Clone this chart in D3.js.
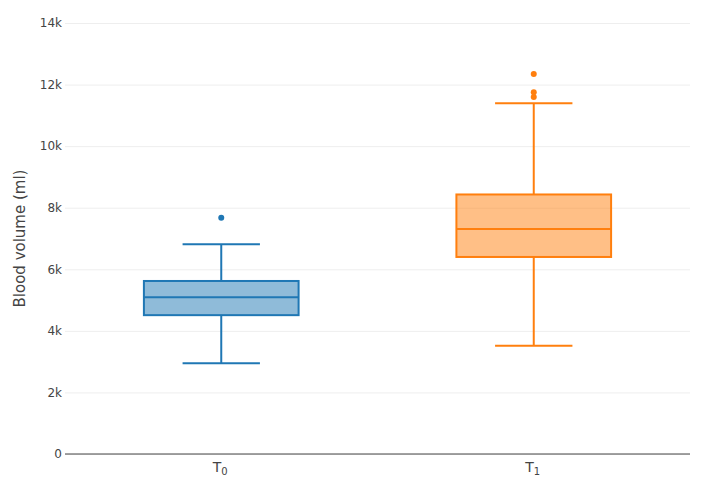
<!DOCTYPE html>
<html>
<head>
<meta charset="utf-8">
<script src="https://cdn.jsdelivr.net/npm/d3@7"></script>
<style>
  body { margin: 0; background: #fff; }
  svg { display: block; }
  svg text { font-family: "DejaVu Sans", Verdana, sans-serif; }
</style>
</head>
<body>
<div id="chart"></div>
<script>
// box statistics
const categories = ["T0", "T1"];
const lowerWhisker = [2950, 3520];
const q1 = [4510, 6400];
const median = [5090, 7310];
const q3 = [5620, 8430];
const upperWhisker = [6810, 11390];
const outliers = [[7670], [11600, 11750, 12340]];
const colors = ["#1f77b4", "#ff7f0e"];
const yTicks = [0, 2000, 4000, 6000, 8000, 10000, 12000, 14000];

const width = 704, height = 487;
const margin = { top: 23, right: 14, bottom: 33, left: 65 };
const innerWidth = width - margin.left - margin.right;
const innerHeight = height - margin.top - margin.bottom;

const svg = d3.select("#chart").append("svg")
    .attr("width", width)
    .attr("height", height);

const g = svg.append("g")
    .attr("transform", `translate(${margin.left},${margin.top})`);

const x = d3.scaleBand()
    .domain(categories)
    .range([0, innerWidth]);

const y = d3.scaleLinear()
    .domain([0, 14000])
    .range([innerHeight, 0]);

const fmt = d => d === 0 ? "0" : (d / 1000) + "k";

// Grid
g.append("g")
    .call(d3.axisLeft(y).tickValues(yTicks).tickSize(-innerWidth).tickFormat(""))
    .call(a => a.select(".domain").remove())
    .call(a => a.selectAll("text").remove())
    .selectAll("line")
    .attr("stroke", "#eee");

// Y axis labels
g.append("g")
    .call(d3.axisLeft(y).tickValues(yTicks).tickSize(0).tickPadding(3).tickFormat(fmt))
    .attr("font-family", null)
    .call(a => a.select(".domain").remove())
    .selectAll("text")
    .attr("fill", "#444")
    .attr("font-size", "12px");

// zero line
g.append("line")
    .attr("x1", 0).attr("x2", innerWidth)
    .attr("y1", y(0)).attr("y2", y(0))
    .attr("stroke", "#444")
    .attr("stroke-width", 1);

// Boxes
const boxW = x.bandwidth() * 0.495;
const data = categories.map((c, i) => ({
    c, i, lo: lowerWhisker[i], q1: q1[i], med: median[i], q3: q3[i], hi: upperWhisker[i], out: outliers[i]
}));

const box = g.selectAll("g.box")
    .data(data)
    .enter()
    .append("g")
    .attr("class", "box")
    .attr("transform", d => `translate(${x(d.c) + x.bandwidth() / 2},0)`);

// whiskers
box.append("line")
    .attr("x1", 0).attr("x2", 0)
    .attr("y1", d => y(d.hi)).attr("y2", d => y(d.q3))
    .attr("stroke", d => colors[d.i]).attr("stroke-width", 2);

box.append("line")
    .attr("x1", 0).attr("x2", 0)
    .attr("y1", d => y(d.q1)).attr("y2", d => y(d.lo))
    .attr("stroke", d => colors[d.i]).attr("stroke-width", 2);

box.selectAll("line.cap")
    .data(d => [d.lo, d.hi].map(v => ({ v, i: d.i })))
    .enter()
    .append("line")
    .attr("class", "cap")
    .attr("x1", -boxW / 4).attr("x2", boxW / 4)
    .attr("y1", d => y(d.v)).attr("y2", d => y(d.v))
    .attr("stroke", d => colors[d.i]).attr("stroke-width", 2);

box.append("rect")
    .attr("x", -boxW / 2)
    .attr("width", boxW)
    .attr("y", d => y(d.q3))
    .attr("height", d => y(d.q1) - y(d.q3))
    .attr("fill", d => colors[d.i])
    .attr("fill-opacity", 0.5)
    .attr("stroke", d => colors[d.i])
    .attr("stroke-width", 2);

box.append("line")
    .attr("x1", -boxW / 2).attr("x2", boxW / 2)
    .attr("y1", d => y(d.med)).attr("y2", d => y(d.med))
    .attr("stroke", d => colors[d.i]).attr("stroke-width", 2);

// outliers
box.selectAll("circle")
    .data(d => d.out.map(v => ({ v, i: d.i })))
    .enter()
    .append("circle")
    .attr("cx", 0)
    .attr("cy", d => y(d.v))
    .attr("r", 3)
    .attr("fill", d => colors[d.i]);

// X labels with subscript
categories.forEach(c => {
    const t = g.append("text")
        .attr("x", x(c) + x.bandwidth() / 2 - 1)
        .attr("y", innerHeight + 18)
        .attr("text-anchor", "middle")
        .attr("fill", "#444")
        .attr("font-size", "14px");
    t.append("tspan").text(c[0]);
    t.append("tspan").attr("font-size", "10px").attr("dy", 3).text(c.slice(1));
});

// Y title
svg.append("text")
    .attr("transform", `translate(25,${margin.top + innerHeight / 2}) rotate(-90)`)
    .attr("text-anchor", "middle")
    .attr("fill", "#444")
    .attr("font-size", "15px")
    .text("Blood volume (ml)");
</script>
</body>
</html>
